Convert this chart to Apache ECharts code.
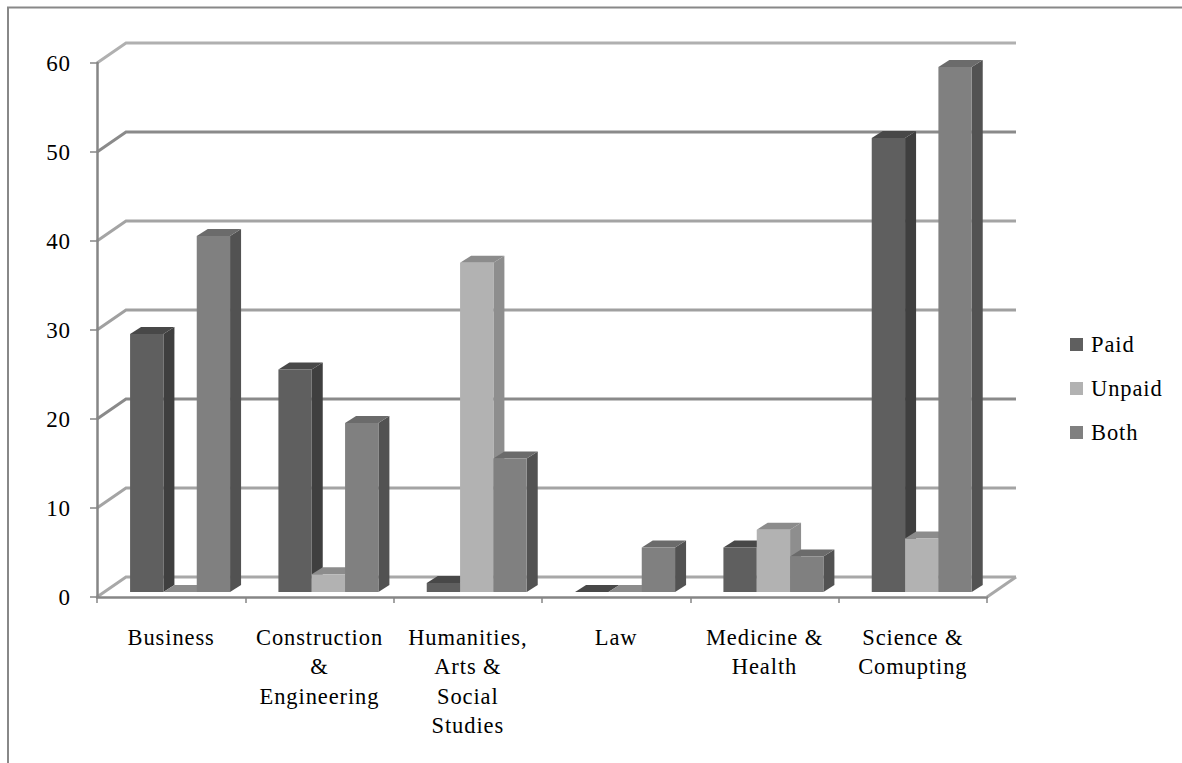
<!DOCTYPE html>
<html><head><meta charset="utf-8">
<style>
html,body{margin:0;padding:0;background:#fff}
#c{width:1182px;height:763px}
#c text{letter-spacing:0.9px}
</style>
<script src="https://cdn.jsdelivr.net/npm/echarts@6/dist/echarts.min.js"></script>
</head><body><div id="c"></div>
<script>
const categories = ['Business','Construction\n&\nEngineering','Humanities,\nArts &\nSocial\nStudies','Law','Medicine &\nHealth','Science &\nComupting'];
const paid = [29,25,1,0,5,51];
const unpaid = [0,2,37,0,7,6];
const both = [40,19,15,5,4,59];
const gridValues = [0,10,20,30,40,50,60];
const gridColors = ['#a8a8a8','#a4a4a4','#8a8a8a','#a0a0a0','#a4a4a4','#8a8a8a','#b0b0b0'];

const FONT = '"Liberation Serif","Times New Roman",serif';
const WALL = [29,-20], DEPTH = [11,-7], LIFT = -5;

function barSeries(name, values, k, front, side, top){
  return {
    type:'custom', name, coordinateSystem:'cartesian2d', clip:false, z:3,
    itemStyle:{color:front},
    data: values.map((v,i)=>[i,v]),
    renderItem(params, api){
      const i = api.value(0), v = api.value(1);
      const band = api.size([1,0])[0], w = band*0.2247;
      const base = api.coord([i,0]), tip = api.coord([i,v]);
      const x0 = base[0] - band*0.277 + k*w, x1 = x0 + w;
      const y0 = base[1] + LIFT, y1 = tip[1] + LIFT;
      const dx = DEPTH[0], dy = DEPTH[1];
      const poly = (pts,fill)=>({type:'polygon',shape:{points:pts},style:{fill}});
      return {type:'group',children:[
        poly([[x1,y0],[x1+dx,y0+dy],[x1+dx,y1+dy],[x1,y1]],side),
        poly([[x0,y1],[x1,y1],[x1+dx,y1+dy],[x0+dx,y1+dy]],top),
        poly([[x0,y0],[x1,y0],[x1,y1],[x0,y1]],front)
      ]};
    }
  };
}

const wallSeries = {
  type:'custom', name:'wall', coordinateSystem:'cartesian2d', clip:false, z:1, silent:true,
  data: gridValues.map((v,i)=>[0,v,i]),
  renderItem(params, api){
    const v = api.value(1), i = api.value(2);
    const band = api.size([1,0])[0];
    const p = api.coord([0,v]);
    const x0 = p[0]-band/2, y0 = p[1];
    const xe = x0 + band*categories.length;
    const color = gridColors[i];
    const kids = [
      {type:'polyline',shape:{points:[[x0,y0],[x0+WALL[0],y0+WALL[1]],[xe+WALL[0],y0+WALL[1]]]},
       style:{fill:'none',stroke:color,lineWidth:3}}
    ];
    if(v===0) kids.push({type:'line',shape:{x1:xe,y1:y0,x2:xe+WALL[0],y2:y0+WALL[1]},style:{stroke:color,lineWidth:3}});
    return {type:'group',children:kids};
  }
};

const chart = echarts.init(document.getElementById('c'),null,{renderer:'svg'});
chart.setOption({
  animation:false,
  backgroundColor:'#fff',
  grid:{left:97,right:195,top:63,bottom:166,containLabel:false},
  graphic:[
    {type:'polyline',z:0,shape:{points:[[8,763],[8,7.5],[1182,7.5]]},style:{fill:'none',stroke:'#888',lineWidth:2}}
  ],
  legend:{
    orient:'vertical',left:1065,top:328,itemWidth:13,itemHeight:13,itemGap:21,
    icon:'rect',data:['Paid','Unpaid','Both'],selectedMode:false,
    textStyle:{fontFamily:FONT,fontSize:22.5,color:'#000',padding:[0,0,0,3]}
  },
  xAxis:{
    type:'category',data:categories,boundaryGap:true,
    axisLine:{lineStyle:{color:'#868686',width:2.5}},
    axisTick:{show:true,alignWithLabel:false,length:6,lineStyle:{color:'#868686',width:1.5}},
    axisLabel:{interval:0,margin:26,fontFamily:FONT,fontSize:22.5,color:'#000',lineHeight:29.3,hideOverlap:false},
    z:2
  },
  yAxis:{
    type:'value',min:0,max:60,interval:10,
    axisLine:{show:true,lineStyle:{color:'#868686',width:2.5}},
    axisTick:{show:true,length:7,lineStyle:{color:'#868686',width:1.5}},
    axisLabel:{margin:26,fontFamily:FONT,fontSize:23,color:'#000'},
    splitLine:{show:false},
    z:2
  },
  series:[
    wallSeries,
    barSeries('Paid',paid,0,'#5f5f5f','#3f3f3f','#484848'),
    barSeries('Unpaid',unpaid,1,'#b2b2b2','#8e8e8e','#8c8c8c'),
    barSeries('Both',both,2,'#808080','#525252','#6b6b6b')
  ]
});
</script></body></html>
